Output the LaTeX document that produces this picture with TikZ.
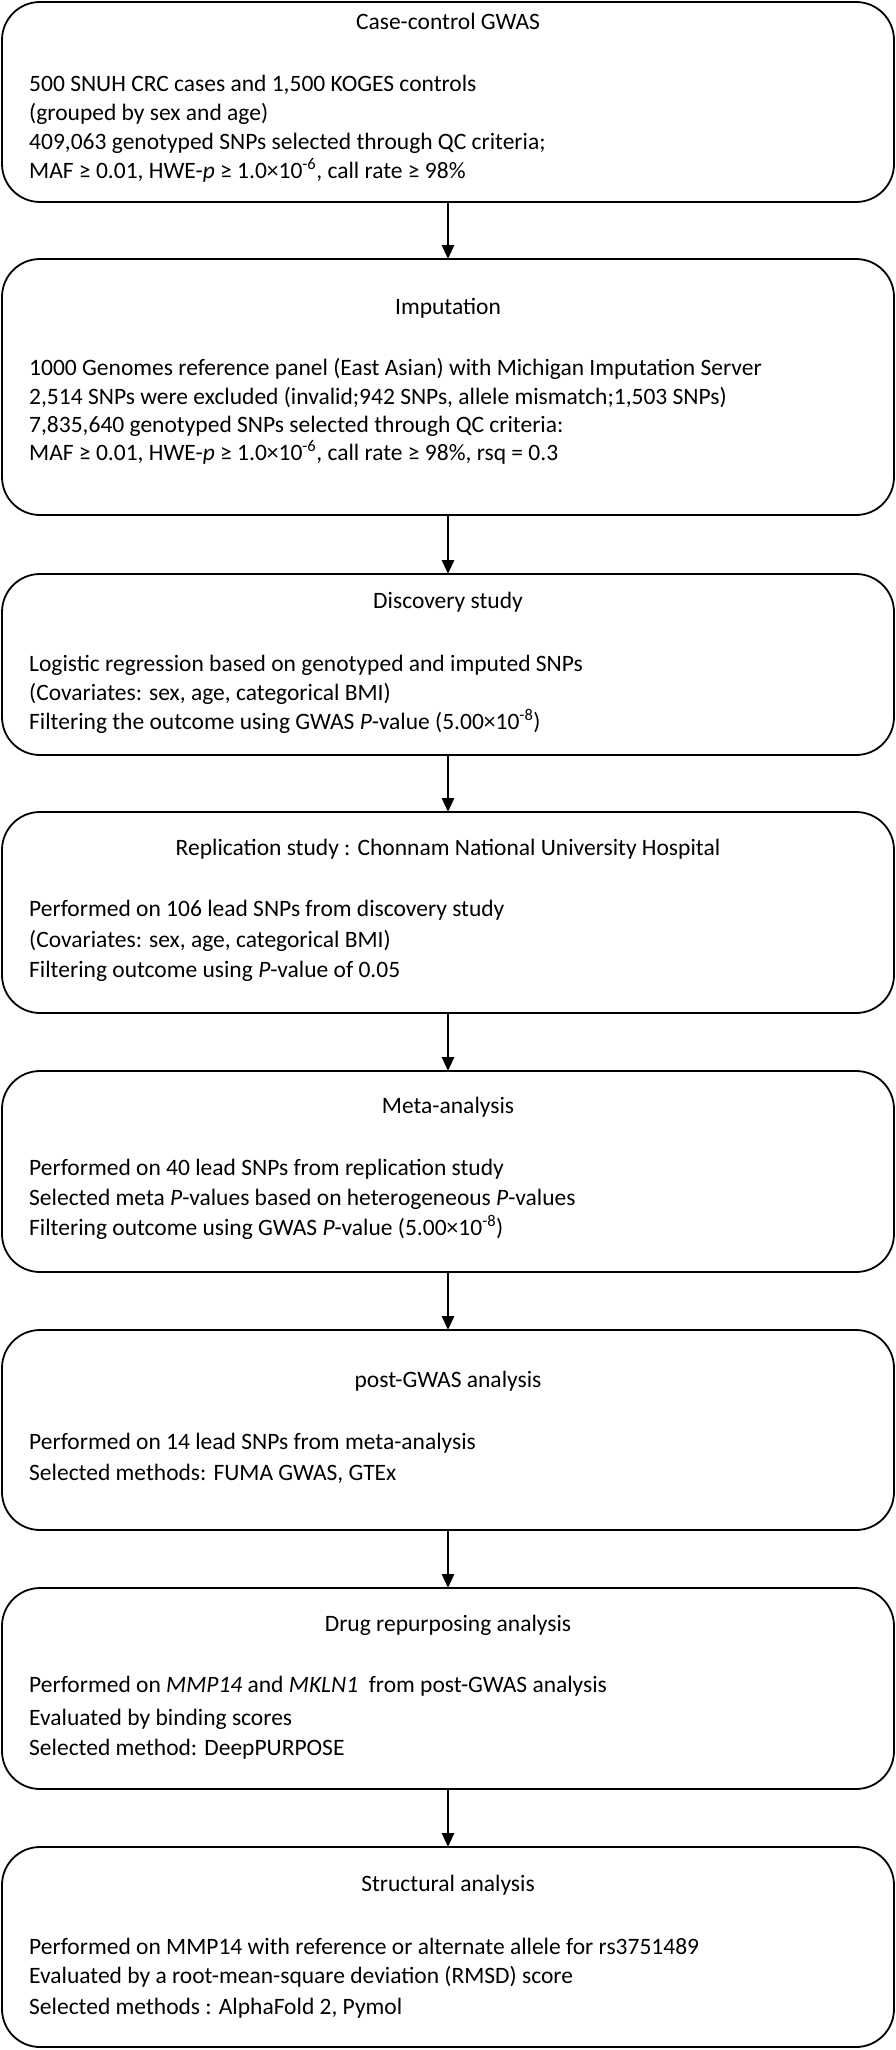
\documentclass[tikz,border=0pt]{standalone}
\usepackage{fontspec}
\setmainfont{Carlito}
\usetikzlibrary{arrows.meta}
\begin{document}
\begin{tikzpicture}[x=1pt,y=-1pt,
  box/.style={draw=black, line width=1.8pt, rounded corners=38pt, minimum width=892pt, inner sep=0pt, outer sep=0pt},
  ttl/.style={anchor=mid, inner sep=0pt, font=\fontsize{23.5}{28}\selectfont},
  txt/.style={anchor=mid west, inner sep=0pt, font=\fontsize{23.5}{28}\selectfont},
  arr/.style={line width=2.8pt, -{Triangle[length=14pt,width=12pt]}}]
\useasboundingbox (0,0) rectangle (896,2050);
% boxes
\node[box, minimum height=200pt] (b1) at (448,102) {};
\node[box, minimum height=256pt] (b2) at (448,387) {};
\node[box, minimum height=181pt] (b3) at (448,664.5) {};
\node[box, minimum height=201pt] (b4) at (448,912.5) {};
\node[box, minimum height=201pt] (b5) at (448,1171.5) {};
\node[box, minimum height=200pt] (b6) at (448,1430) {};
\node[box, minimum height=201pt] (b7) at (448,1688.5) {};
\node[box, minimum height=200pt] (b8) at (448,1947) {};
% arrows
\draw[arr] (b1.south) -- (b2.north);
\draw[arr] (b2.south) -- (b3.north);
\draw[arr] (b3.south) -- (b4.north);
\draw[arr] (b4.south) -- (b5.north);
\draw[arr] (b5.south) -- (b6.north);
\draw[arr] (b6.south) -- (b7.north);
\draw[arr] (b7.south) -- (b8.north);
% box 1
\node[ttl] (t1) at (448,27) {Case-control GWAS};
\node[txt] (l11) at (29,89) {500 SNUH CRC cases and 1,500 KOGES controls};
\node[txt] (l12) at (29,118) {(grouped by sex and age)};
\node[txt] (l13) at (29,147) {409,063 genotyped SNPs selected through QC criteria;};
\node[txt] (l14) at (29,176) {MAF ≥ 0.01, HWE-\textit{p} ≥ 1.0×10\textsuperscript{-6}, call rate ≥ 98\%};
% box 2
\node[ttl] (t2) at (448,312) {Imputation};
\node[txt] (l21) at (29,373) {1000 Genomes reference panel (East Asian) with Michigan Imputation Server};
\node[txt] (l22) at (29,402) {2,514 SNPs were excluded (invalid;942 SNPs, allele mismatch;1,503 SNPs)};
\node[txt] (l23) at (29,430) {7,835,640 genotyped SNPs selected through QC criteria:};
\node[txt] (l24) at (29,458) {MAF ≥ 0.01, HWE-\textit{p} ≥ 1.0×10\textsuperscript{-6}, call rate ≥ 98\%, rsq = 0.3};
% box 3
\node[ttl] (t3) at (448,606) {Discovery study};
\node[txt] (l31) at (29,669) {Logistic regression based on genotyped and imputed SNPs};
\node[txt] (l32) at (29,698) {(Covariates: sex, age, categorical BMI)};
\node[txt] (l33) at (29,727) {Filtering the outcome using GWAS \textit{P}-value (5.00×10\textsuperscript{-8})};
% box 4
\node[ttl] (t4) at (448,853) {Replication study : Chonnam National University Hospital};
\node[txt] (l41) at (29,914) {Performed on 106 lead SNPs from discovery study};
\node[txt] (l42) at (29,945) {(Covariates: sex, age, categorical BMI)};
\node[txt] (l43) at (29,975) {Filtering outcome using \textit{P}-value of 0.05};
% box 5
\node[ttl] (t5) at (448,1111) {Meta-analysis};
\node[txt] (l51) at (29,1173) {Performed on 40 lead SNPs from replication study};
\node[txt] (l52) at (29,1203) {Selected meta \textit{P}-values based on heterogeneous \textit{P}-values};
\node[txt] (l53) at (29,1233) {Filtering outcome using GWAS \textit{P}-value (5.00×10\textsuperscript{-8})};
% box 6
\node[ttl] (t6) at (448,1385) {post-GWAS analysis};
\node[txt] (l61) at (29,1447) {Performed on 14 lead SNPs from meta-analysis};
\node[txt] (l62) at (29,1478) {Selected methods: FUMA GWAS, GTEx};
% box 7
\node[ttl] (t7) at (448,1629) {Drug repurposing analysis};
\node[txt] (l71) at (29,1690) {Performed on \textit{MMP14} and \textit{MKLN1}\ \ from post-GWAS analysis};
\node[txt] (l72) at (29,1723) {Evaluated by binding scores};
\node[txt] (l73) at (29,1753) {Selected method: DeepPURPOSE};
% box 8
\node[ttl] (t8) at (448,1889) {Structural analysis};
\node[txt] (l81) at (29,1952) {Performed on MMP14 with reference or alternate allele for rs3751489};
\node[txt] (l82) at (29,1981) {Evaluated by a root-mean-square deviation (RMSD) score};
\node[txt] (l83) at (29,2012) {Selected methods : AlphaFold 2, Pymol};
\end{tikzpicture}
\end{document}
